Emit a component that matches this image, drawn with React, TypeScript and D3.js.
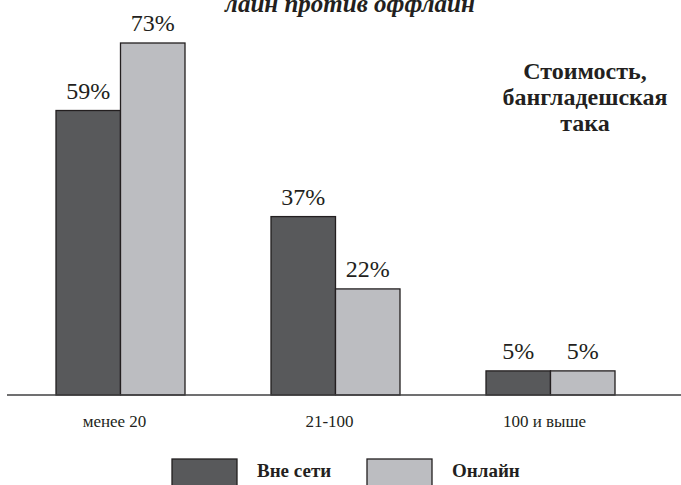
import React from "react";
import * as d3 from "d3";

const categories = ["менее 20", "21-100", "100 и выше"];
const seriesNames = ["Вне сети", "Онлайн"];
const offlineValues = [59, 37, 5];
const onlineValues = [73, 22, 5];
const titleText = "лайн против оффлайн";
const noteLines = ["Стоимость,", "бангладешская", "така"];

const W = 681;
const H = 485;
const COLORS = ["#58595b", "#bcbdc1"];
const INK = "#231f20";
const SERIF = "'Liberation Serif'";

export default function App() {
  const baseY = 395;
  const x0 = d3.scaleBand<string>().domain(categories).range([56, 615]).paddingInner(0.4).paddingOuter(0);
  const x1 = d3.scaleBand<string>().domain(seriesNames).range([0, x0.bandwidth()]).padding(0);
  const y = d3.scaleLinear().domain([0, 73]).range([baseY, 43]);
  const series = [offlineValues, onlineValues];
  const ts = { fontFamily: SERIF };

  return (
    <svg width={W} height={H} style={{ position: "absolute", left: 0, top: 0, background: "#fff", fontFamily: SERIF }}>
      <text x={350} y={12} textAnchor="middle" fontSize={25} fontStyle="italic" fontWeight="bold" fill={INK} style={ts}>
        {titleText}
      </text>
      {categories.map((c, i) => (
        <g key={c} transform={`translate(${x0(c)},0)`}>
          {seriesNames.map((s, j) => {
            const v = series[j][i];
            const bx = x1(s)!;
            return (
              <g key={s}>
                <rect x={bx} y={y(v)} width={x1.bandwidth()} height={baseY - y(v)} fill={COLORS[j]} stroke={INK} strokeWidth={1.3} />
                <text x={bx + x1.bandwidth() / 2} y={y(v) - 12} textAnchor="middle" fontSize={24} fill={INK} style={ts}>
                  {v}%
                </text>
              </g>
            );
          })}
          <text x={x0.bandwidth() / 2 - 6} y={427} textAnchor="middle" fontSize={17} fill={INK} style={ts}>
            {c}
          </text>
        </g>
      ))}
      <line x1={7} x2={W} y1={baseY} y2={baseY} stroke="#414042" strokeWidth={1.5} />
      {noteLines.map((t, i) => (
        <text key={t} x={585} y={79 + i * 26} textAnchor="middle" fontSize={24} fontWeight="bold" fill={INK} style={ts}>
          {t}
        </text>
      ))}
      {seriesNames.map((s, j) => {
        const lx = j === 0 ? 172 : 367;
        const tx = j === 0 ? 257 : 452;
        return (
          <g key={s}>
            <rect x={lx} y={459} width={65} height={32} fill={COLORS[j]} stroke={INK} strokeWidth={1.3} />
            <text x={tx} y={477} fontSize={19} fontWeight="bold" fill={INK} style={ts}>
              {s}
            </text>
          </g>
        );
      })}
    </svg>
  );
}
